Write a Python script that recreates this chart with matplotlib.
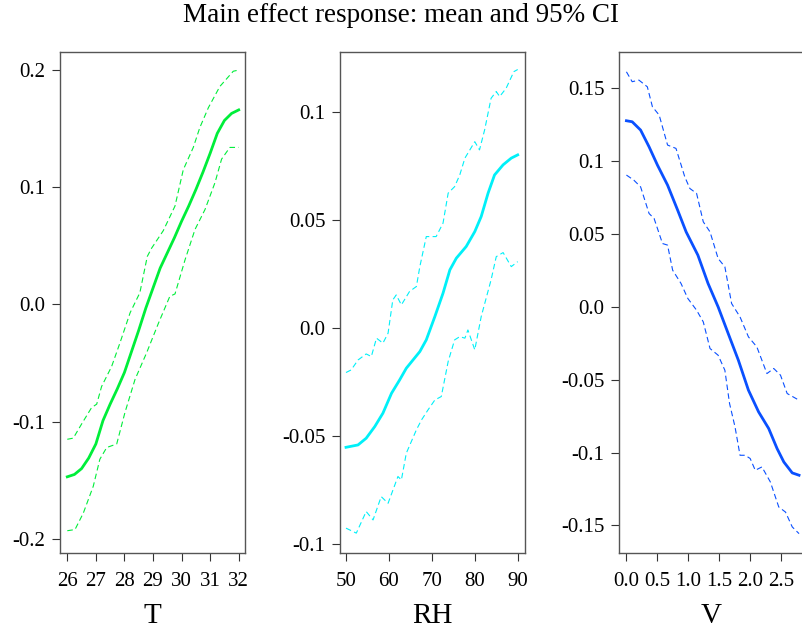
import numpy as np
import matplotlib
matplotlib.use('Agg')
import matplotlib.pyplot as plt

plt.rcParams['font.family'] = ['Liberation Serif', 'DejaVu Serif']

# T panel
t_mean_x = [26.0, 26.25, 26.5, 26.75, 27.0, 27.25, 27.5, 27.75, 28.0, 28.25, 28.5, 28.75,
            29.0, 29.25, 29.5, 29.75, 30.0, 30.25, 30.5, 30.75, 31.0, 31.25, 31.5, 31.75, 32.0]
t_mean_y = [-0.147, -0.145, -0.140, -0.131, -0.119, -0.099, -0.085, -0.072, -0.058, -0.040,
            -0.022, -0.003, 0.014, 0.031, 0.044, 0.057, 0.071, 0.084, 0.098, 0.113, 0.129,
            0.146, 0.157, 0.163, 0.166]
t_up_x = [26.0, 26.21, 26.5, 26.85, 27.03, 27.2, 27.55, 27.84, 28.2, 28.54, 28.8, 28.95,
          29.36, 29.77, 30.06, 30.41, 30.64, 30.94, 31.34, 31.81, 32.0]
t_up_y = [-0.115, -0.114, -0.102, -0.088, -0.085, -0.070, -0.053, -0.033, -0.007, 0.010,
          0.041, 0.048, 0.063, 0.084, 0.115, 0.134, 0.151, 0.168, 0.186, 0.199, 0.200]
t_lo_x = [26.0, 26.27, 26.56, 26.91, 27.14, 27.38, 27.73, 28.02, 28.37, 28.78, 29.19, 29.59,
          29.77, 30.12, 30.47, 30.82, 31.17, 31.4, 31.69, 32.0]
t_lo_y = [-0.193, -0.192, -0.178, -0.155, -0.132, -0.122, -0.119, -0.092, -0.064, -0.041,
          -0.016, 0.007, 0.009, 0.038, 0.064, 0.081, 0.104, 0.124, 0.134, 0.134]

# RH panel
rh_mean_x = [50.0, 52.8, 54.7, 56.7, 58.6, 60.6, 62.5, 64.05, 67.2, 68.7, 70.7, 72.6, 74.2,
             75.7, 78.0, 80.0, 81.5, 83.1, 84.6, 86.6, 88.5, 90.0]
rh_mean_y = [-0.0553, -0.0542, -0.0511, -0.0457, -0.0395, -0.0303, -0.0241, -0.0187,
             -0.0110, -0.0056, 0.0052, 0.0160, 0.0268, 0.0322, 0.0376, 0.0445, 0.0515,
             0.0623, 0.0707, 0.0754, 0.0785, 0.0800]
rh_up_x = [50.0, 51.2, 52.8, 54.7, 55.9, 57.1, 58.6, 59.8, 60.9, 61.7, 62.9, 64.8, 66.4,
           67.2, 68.7, 71.0, 72.6, 73.8, 75.3, 76.5, 77.7, 80.0, 81.1, 82.3, 83.8, 85.0,
           85.8, 87.3, 89.1, 90.0]
rh_up_y = [-0.0207, -0.0195, -0.0149, -0.0121, -0.0133, -0.0048, -0.0071, -0.0025, 0.0129,
           0.0152, 0.0106, 0.0168, 0.0191, 0.0283, 0.0422, 0.0422, 0.0484, 0.0623, 0.0653,
           0.0707, 0.0785, 0.0861, 0.0823, 0.0916, 0.1062, 0.1093, 0.1070, 0.1108, 0.1185,
           0.1195]
rh_lo_x = [50.0, 52.4, 54.7, 56.3, 58.2, 59.8, 62.1, 62.9, 64.05, 66.4, 67.6, 69.1, 70.7,
           72.2, 73.8, 75.3, 76.5, 77.7, 78.4, 80.0, 81.5, 83.8, 85.0, 86.6, 88.5, 90.0]
rh_lo_y = [-0.0927, -0.0950, -0.0850, -0.0889, -0.0781, -0.0812, -0.0688, -0.0704, -0.0580,
           -0.0472, -0.0426, -0.0380, -0.0334, -0.0318, -0.0156, -0.0056, -0.0041, -0.0048,
           -0.0010, -0.0102, 0.0052, 0.0222, 0.0329, 0.0348, 0.0283, 0.0306]

# V panel
v_mean_x = [0.0, 0.093, 0.229, 0.366, 0.502, 0.665, 0.828, 0.965, 1.155, 1.319, 1.482,
            1.645, 1.809, 1.972, 2.136, 2.299, 2.435, 2.544, 2.68, 2.79]
v_mean_y = [0.1278, 0.1271, 0.1214, 0.1099, 0.0973, 0.0836, 0.0664, 0.0515, 0.0355, 0.0161,
            0.0, -0.0183, -0.0366, -0.0572, -0.0721, -0.0835, -0.0973, -0.1065, -0.1140,
            -0.1156]
v_up_x = [0.0, 0.093, 0.202, 0.338, 0.42, 0.529, 0.665, 0.801, 0.943, 1.025, 1.134, 1.242,
          1.351, 1.482, 1.591, 1.70, 1.836, 1.972, 2.108, 2.271, 2.381, 2.49, 2.598, 2.79]
v_up_y = [0.1614, 0.1546, 0.1557, 0.1511, 0.1374, 0.1317, 0.1111, 0.1088, 0.0893, 0.0813,
          0.0779, 0.0584, 0.0515, 0.0332, 0.0275, 0.0023, -0.0069, -0.0206, -0.0275, -0.0458,
          -0.0423, -0.0469, -0.0595, -0.0641]
v_lo_x = [0.0, 0.12, 0.229, 0.366, 0.447, 0.583, 0.665, 0.747, 0.882, 0.992, 1.134, 1.242,
          1.351, 1.482, 1.591, 1.667, 1.755, 1.836, 1.918, 2.0, 2.082, 2.19, 2.326, 2.462,
          2.571, 2.68, 2.79]
v_lo_y = [0.0905, 0.0870, 0.0824, 0.0641, 0.0607, 0.0435, 0.0424, 0.0252, 0.0161, 0.0058,
          -0.0023, -0.0103, -0.0286, -0.0332, -0.0435, -0.0664, -0.0824, -0.1019, -0.1019,
          -0.1041, -0.1122, -0.1099, -0.1202, -0.1374, -0.1409, -0.1511, -0.1557]

panels = [
    ('T', '#00EE3A', (t_mean_x, t_mean_y), (t_up_x, t_up_y), (t_lo_x, t_lo_y),
     [26, 27, 28, 29, 30, 31, 32], ['26', '27', '28', '29', '30', '31', '32'],
     (25.745, 32.22), [-0.2, -0.1, 0.0, 0.1, 0.2], ['-0.2', '-0.1', '0.0', '0.1', '0.2'],
     (-0.212, 0.2154)),
    ('RH', '#00F0F8', (rh_mean_x, rh_mean_y), (rh_up_x, rh_up_y), (rh_lo_x, rh_lo_y),
     [50, 60, 70, 80, 90], ['50', '60', '70', '80', '90'],
     (48.6, 91.7), [-0.1, -0.05, 0.0, 0.05, 0.1], ['-0.1', '-0.05', '0.0', '0.05', '0.1'],
     (-0.1042, 0.1276)),
    ('V', '#0A50FF', (v_mean_x, v_mean_y), (v_up_x, v_up_y), (v_lo_x, v_lo_y),
     [0.0, 0.5, 1.0, 1.5, 2.0, 2.5], ['0.0', '0.5', '1.0', '1.5', '2.0', '2.5'],
     (-0.12, 2.87), [-0.15, -0.1, -0.05, 0.0, 0.05, 0.1, 0.15],
     ['-0.15', '-0.1', '-0.05', '0.0', '0.05', '0.1', '0.15'],
     (-0.169, 0.175)),
]

W, H = 803, 630
fig = plt.figure(figsize=(W / 100, H / 100), dpi=100)
lefts = [60, 340, 619]
for left, p in zip(lefts, panels):
    name, col, mean, up, lo, xt, xtl, xlim, yt, ytl, ylim = p
    ax = fig.add_axes([left / W, (H - 553) / H, 185 / W, 501 / H])
    ax.plot(mean[0], mean[1], color=col, lw=2.0)
    ax.plot(up[0], up[1], color=col, lw=0.8, ls=(0, (5, 3)))
    ax.plot(lo[0], lo[1], color=col, lw=0.8, ls=(0, (5, 3)))
    ax.set_xlim(*xlim)
    ax.set_ylim(*ylim)
    ax.set_xticks(xt)
    ax.set_xticklabels(xtl)
    ax.set_yticks(yt)
    ax.set_yticklabels(ytl)
    ax.tick_params(labelsize=15, length=5.5, width=0.8, color='#333333')
    ax.tick_params(axis='x', pad=8)
    ax.tick_params(axis='y', pad=5)
    for s in ax.spines.values():
        s.set_color('#555555')
        s.set_linewidth(1.0)
    ax.set_xlabel(name, fontsize=21, labelpad=9)

fig.text(0.5, 1 - 16 / H, 'Main effect response: mean and 95% CI', ha='center',
         va='center', fontsize=19.5)

fig.savefig('out.png', dpi=100)
